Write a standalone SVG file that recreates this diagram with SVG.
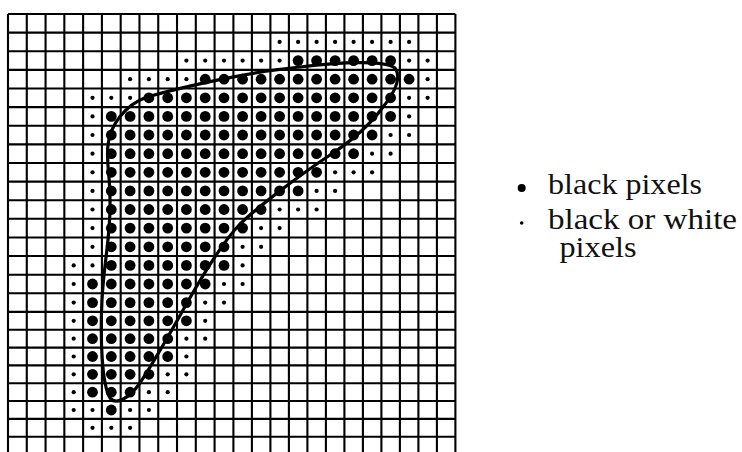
<svg xmlns="http://www.w3.org/2000/svg" xmlns:xlink="http://www.w3.org/1999/xlink" width="742" height="452" viewBox="0 0 742 452">
<style>
.grid{fill:none;stroke:#000;stroke-width:2.1}
.curve{fill:none;stroke:#000;stroke-width:3.2;stroke-linejoin:round}
.lbl{font-family:"Liberation Serif","Times New Roman",serif;font-size:30px;fill:#111}
</style>
<defs>
<circle id="B" cx="0" cy="0" r="5.4" fill="#000"/>
<circle id="S" cx="0" cy="0" r="2.1" fill="#000"/>
</defs>
<rect width="742" height="452" fill="#fff"/>
<g id="grid">
<path class="grid" d="M8 14V452M26.78 14V452M45.56 14V452M64.34 14V452M83.12 14V452M101.9 14V452M120.68 14V452M139.46 14V452M158.24 14V452M177.02 14V452M195.8 14V452M214.58 14V452M233.4 14V452M251.9 14V452M270.4 14V452M288.9 14V452M307.4 14V452M325.9 14V452M344.4 14V452M362.9 14V452M381.4 14V452M399.9 14V452M418.4 14V452M436.9 14V452M455.4 14V452
M8 14H455.4M8 32.62H455.4M8 51.24H455.4M8 69.86H455.4M8 88.48H455.4M8 107.1H455.4M8 125.72H455.4M8 144.34H455.4M8 162.96H455.4M8 181.58H455.4M8 200.2H455.4M8 218.82H455.4M8 237.44H455.4M8 256.06H455.4M8 274.68H455.4M8 293.3H455.4M8 311.92H455.4M8 329.75H455.4M8 347.58H455.4M8 365.41H455.4M8 383.24H455.4M8 401.07H455.4M8 418.9H455.4M8 436.73H455.4"/>
</g>
<g id="dots">
<g transform="translate(0,41.9)"><use href="#S" x="279.6"/><use href="#S" x="298.1"/><use href="#S" x="316.6"/><use href="#S" x="335.1"/><use href="#S" x="353.6"/><use href="#S" x="372.1"/><use href="#S" x="390.6"/><use href="#S" x="409.1"/></g>
<g transform="translate(0,60.6)"><use href="#S" x="186.4"/><use href="#S" x="205.2"/><use href="#S" x="224"/><use href="#S" x="242.6"/><use href="#S" x="261.1"/><use href="#S" x="279.6"/><use href="#B" x="298.1"/><use href="#B" x="316.6"/><use href="#B" x="335.1"/><use href="#B" x="353.6"/><use href="#B" x="372.1"/><use href="#B" x="390.6"/><use href="#S" x="409.1"/><use href="#S" x="427.6"/></g>
<g transform="translate(0,79.2)"><use href="#S" x="130.1"/><use href="#S" x="148.9"/><use href="#S" x="167.7"/><use href="#S" x="186.4"/><use href="#B" x="205.2"/><use href="#B" x="224"/><use href="#B" x="242.6"/><use href="#B" x="261.1"/><use href="#B" x="279.6"/><use href="#B" x="298.1"/><use href="#B" x="316.6"/><use href="#B" x="335.1"/><use href="#B" x="353.6"/><use href="#B" x="372.1"/><use href="#B" x="390.6"/><use href="#B" x="409.1"/><use href="#S" x="427.6"/></g>
<g transform="translate(0,97.8)"><use href="#S" x="92.5"/><use href="#S" x="111.3"/><use href="#S" x="130.1"/><use href="#B" x="148.9"/><use href="#B" x="167.7"/><use href="#B" x="186.4"/><use href="#B" x="205.2"/><use href="#B" x="224"/><use href="#B" x="242.6"/><use href="#B" x="261.1"/><use href="#B" x="279.6"/><use href="#B" x="298.1"/><use href="#B" x="316.6"/><use href="#B" x="335.1"/><use href="#B" x="353.6"/><use href="#B" x="372.1"/><use href="#B" x="390.6"/><use href="#S" x="409.1"/><use href="#S" x="427.6"/></g>
<g transform="translate(0,116.4)"><use href="#S" x="92.5"/><use href="#B" x="111.3"/><use href="#B" x="130.1"/><use href="#B" x="148.9"/><use href="#B" x="167.7"/><use href="#B" x="186.4"/><use href="#B" x="205.2"/><use href="#B" x="224"/><use href="#B" x="242.6"/><use href="#B" x="261.1"/><use href="#B" x="279.6"/><use href="#B" x="298.1"/><use href="#B" x="316.6"/><use href="#B" x="335.1"/><use href="#B" x="353.6"/><use href="#B" x="372.1"/><use href="#B" x="390.6"/><use href="#S" x="409.1"/></g>
<g transform="translate(0,135)"><use href="#S" x="92.5"/><use href="#B" x="111.3"/><use href="#B" x="130.1"/><use href="#B" x="148.9"/><use href="#B" x="167.7"/><use href="#B" x="186.4"/><use href="#B" x="205.2"/><use href="#B" x="224"/><use href="#B" x="242.6"/><use href="#B" x="261.1"/><use href="#B" x="279.6"/><use href="#B" x="298.1"/><use href="#B" x="316.6"/><use href="#B" x="335.1"/><use href="#B" x="353.6"/><use href="#B" x="372.1"/><use href="#S" x="390.6"/><use href="#S" x="409.1"/></g>
<g transform="translate(0,153.7)"><use href="#S" x="92.5"/><use href="#B" x="111.3"/><use href="#B" x="130.1"/><use href="#B" x="148.9"/><use href="#B" x="167.7"/><use href="#B" x="186.4"/><use href="#B" x="205.2"/><use href="#B" x="224"/><use href="#B" x="242.6"/><use href="#B" x="261.1"/><use href="#B" x="279.6"/><use href="#B" x="298.1"/><use href="#B" x="316.6"/><use href="#B" x="335.1"/><use href="#B" x="353.6"/><use href="#S" x="372.1"/><use href="#S" x="390.6"/></g>
<g transform="translate(0,172.3)"><use href="#S" x="92.5"/><use href="#B" x="111.3"/><use href="#B" x="130.1"/><use href="#B" x="148.9"/><use href="#B" x="167.7"/><use href="#B" x="186.4"/><use href="#B" x="205.2"/><use href="#B" x="224"/><use href="#B" x="242.6"/><use href="#B" x="261.1"/><use href="#B" x="279.6"/><use href="#B" x="298.1"/><use href="#B" x="316.6"/><use href="#S" x="335.1"/><use href="#S" x="353.6"/><use href="#S" x="372.1"/></g>
<g transform="translate(0,190.9)"><use href="#S" x="92.5"/><use href="#B" x="111.3"/><use href="#B" x="130.1"/><use href="#B" x="148.9"/><use href="#B" x="167.7"/><use href="#B" x="186.4"/><use href="#B" x="205.2"/><use href="#B" x="224"/><use href="#B" x="242.6"/><use href="#B" x="261.1"/><use href="#B" x="279.6"/><use href="#B" x="298.1"/><use href="#S" x="316.6"/><use href="#S" x="335.1"/></g>
<g transform="translate(0,209.5)"><use href="#S" x="92.5"/><use href="#B" x="111.3"/><use href="#B" x="130.1"/><use href="#B" x="148.9"/><use href="#B" x="167.7"/><use href="#B" x="186.4"/><use href="#B" x="205.2"/><use href="#B" x="224"/><use href="#B" x="242.6"/><use href="#B" x="261.1"/><use href="#S" x="279.6"/><use href="#S" x="298.1"/><use href="#S" x="316.6"/></g>
<g transform="translate(0,228.1)"><use href="#S" x="92.5"/><use href="#B" x="111.3"/><use href="#B" x="130.1"/><use href="#B" x="148.9"/><use href="#B" x="167.7"/><use href="#B" x="186.4"/><use href="#B" x="205.2"/><use href="#B" x="224"/><use href="#B" x="242.6"/><use href="#S" x="261.1"/><use href="#S" x="279.6"/></g>
<g transform="translate(0,246.8)"><use href="#S" x="92.5"/><use href="#B" x="111.3"/><use href="#B" x="130.1"/><use href="#B" x="148.9"/><use href="#B" x="167.7"/><use href="#B" x="186.4"/><use href="#B" x="205.2"/><use href="#B" x="224"/><use href="#S" x="242.6"/><use href="#S" x="261.1"/></g>
<g transform="translate(0,265.4)"><use href="#S" x="73.7"/><use href="#S" x="92.5"/><use href="#B" x="111.3"/><use href="#B" x="130.1"/><use href="#B" x="148.9"/><use href="#B" x="167.7"/><use href="#B" x="186.4"/><use href="#B" x="205.2"/><use href="#B" x="224"/><use href="#S" x="242.6"/></g>
<g transform="translate(0,284)"><use href="#S" x="73.7"/><use href="#B" x="92.5"/><use href="#B" x="111.3"/><use href="#B" x="130.1"/><use href="#B" x="148.9"/><use href="#B" x="167.7"/><use href="#B" x="186.4"/><use href="#B" x="205.2"/><use href="#S" x="224"/><use href="#S" x="242.6"/></g>
<g transform="translate(0,302.6)"><use href="#S" x="73.7"/><use href="#B" x="92.5"/><use href="#B" x="111.3"/><use href="#B" x="130.1"/><use href="#B" x="148.9"/><use href="#B" x="167.7"/><use href="#B" x="186.4"/><use href="#S" x="205.2"/><use href="#S" x="224"/></g>
<g transform="translate(0,320.8)"><use href="#S" x="73.7"/><use href="#B" x="92.5"/><use href="#B" x="111.3"/><use href="#B" x="130.1"/><use href="#B" x="148.9"/><use href="#B" x="167.7"/><use href="#B" x="186.4"/><use href="#S" x="205.2"/></g>
<g transform="translate(0,338.7)"><use href="#S" x="73.7"/><use href="#B" x="92.5"/><use href="#B" x="111.3"/><use href="#B" x="130.1"/><use href="#B" x="148.9"/><use href="#B" x="167.7"/><use href="#S" x="186.4"/><use href="#S" x="205.2"/></g>
<g transform="translate(0,356.5)"><use href="#S" x="73.7"/><use href="#B" x="92.5"/><use href="#B" x="111.3"/><use href="#B" x="130.1"/><use href="#B" x="148.9"/><use href="#B" x="167.7"/><use href="#S" x="186.4"/></g>
<g transform="translate(0,374.3)"><use href="#S" x="73.7"/><use href="#B" x="92.5"/><use href="#B" x="111.3"/><use href="#B" x="130.1"/><use href="#B" x="148.9"/><use href="#S" x="167.7"/><use href="#S" x="186.4"/></g>
<g transform="translate(0,392.2)"><use href="#S" x="73.7"/><use href="#B" x="92.5"/><use href="#B" x="111.3"/><use href="#B" x="130.1"/><use href="#S" x="148.9"/><use href="#S" x="167.7"/></g>
<g transform="translate(0,410)"><use href="#S" x="73.7"/><use href="#S" x="92.5"/><use href="#B" x="111.3"/><use href="#S" x="130.1"/><use href="#S" x="148.9"/></g>
<g transform="translate(0,427.8)"><use href="#S" x="92.5"/><use href="#S" x="111.3"/><use href="#S" x="130.1"/></g>
</g>
<g id="outline">
<path class="curve" d="M102 300C104 260 111 235 110 200C110 175 106 160 108 145C110 125 125 105 147 97C190 85 250 72 300 67C340 62 385 60 395 68C402 78 395 92 383 107C370 125 350 142 330 155C300 175 260 205 240 224C220 245 200 280 187 303C172 330 155 360 140 383C128 400 115 405 110 398C102 385 100 340 102 300Z"/>
</g>
<g id="legend">
<circle cx="521.7" cy="188" r="4" fill="#000"/>
<text class="lbl" x="548" y="194" textLength="154" lengthAdjust="spacingAndGlyphs">black pixels</text>
<circle cx="521.7" cy="223" r="1.8" fill="#000"/>
<text class="lbl" x="548" y="228.5" textLength="189" lengthAdjust="spacingAndGlyphs">black or white</text>
<text class="lbl" x="559.5" y="257" textLength="77" lengthAdjust="spacingAndGlyphs">pixels</text>
</g>
</svg>
